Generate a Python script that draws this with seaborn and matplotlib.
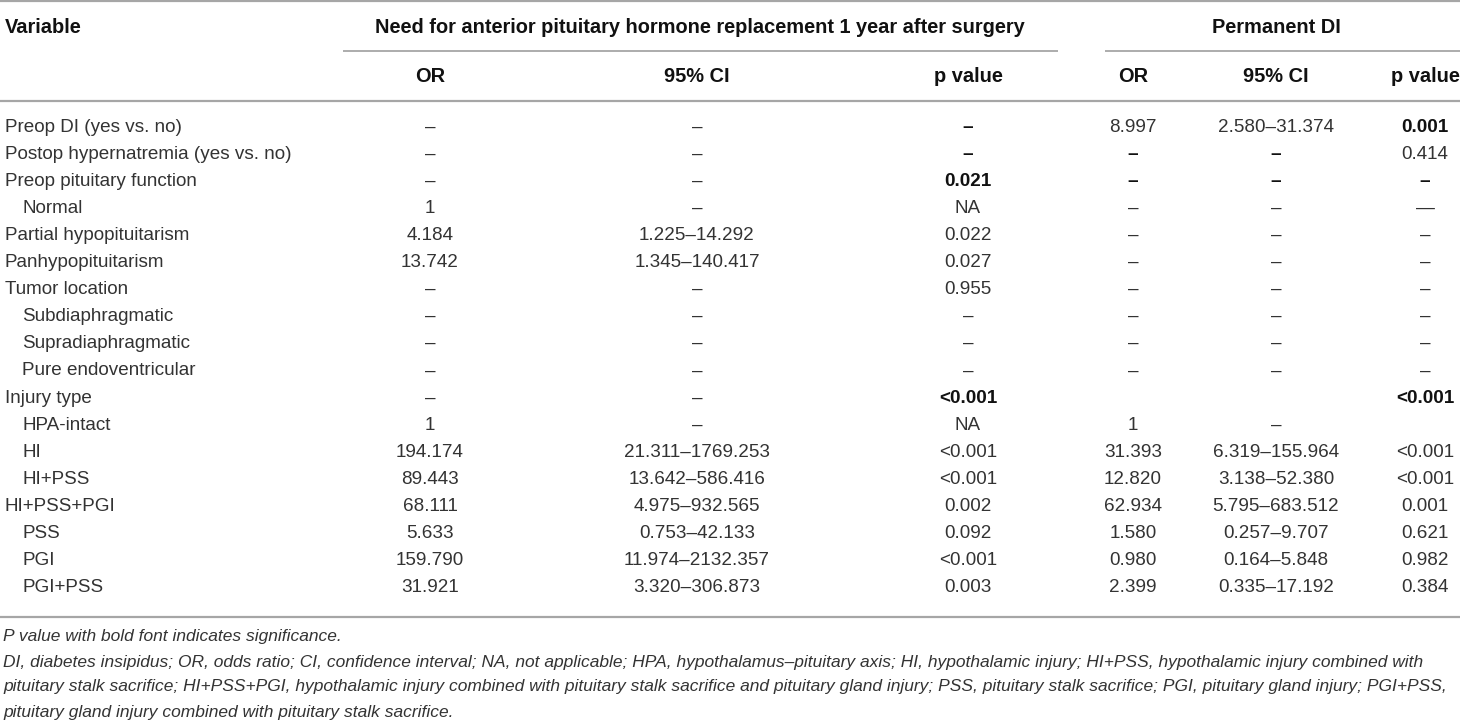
import matplotlib
matplotlib.use("Agg")
import matplotlib.pyplot as plt
import seaborn as sns

# table content
group_headers = ["Need for anterior pituitary hormone replacement 1 year after surgery", "Permanent DI"]
sub_headers = ["OR", "95% CI", "p value", "OR", "95% CI", "p value"]

variables = [
    "Preop DI (yes vs. no)", "Postop hypernatremia (yes vs. no)", "Preop pituitary function",
    "Normal", "Partial hypopituitarism", "Panhypopituitarism", "Tumor location",
    "Subdiaphragmatic", "Supradiaphragmatic", "Pure endoventricular", "Injury type",
    "HPA-intact", "HI", "HI+PSS", "HI+PSS+PGI", "PSS", "PGI", "PGI+PSS",
]
indented = [False, False, False, True, False, False, False, True, True, True, False,
            True, True, True, False, True, True, True]

or_1 = ["–", "–", "–", "1", "4.184", "13.742", "–", "–", "–", "–", "–",
        "1", "194.174", "89.443", "68.111", "5.633", "159.790", "31.921"]
ci_1 = ["–", "–", "–", "–", "1.225–14.292", "1.345–140.417", "–", "–", "–", "–", "–",
        "–", "21.311–1769.253", "13.642–586.416", "4.975–932.565", "0.753–42.133",
        "11.974–2132.357", "3.320–306.873"]
p_1 = ["–", "–", "0.021", "NA", "0.022", "0.027", "0.955", "–", "–", "–", "<0.001",
       "NA", "<0.001", "<0.001", "0.002", "0.092", "<0.001", "0.003"]
or_2 = ["8.997", "–", "–", "–", "–", "–", "–", "–", "–", "–", "",
        "1", "31.393", "12.820", "62.934", "1.580", "0.980", "2.399"]
ci_2 = ["2.580–31.374", "–", "–", "–", "–", "–", "–", "–", "–", "–", "",
        "–", "6.319–155.964", "3.138–52.380", "5.795–683.512", "0.257–9.707",
        "0.164–5.848", "0.335–17.192"]
p_2 = ["0.001", "0.414", "–", "—", "–", "–", "–", "–", "–", "–", "<0.001",
       "", "<0.001", "<0.001", "0.001", "0.621", "0.982", "0.384"]

# (row, column) cells printed in bold, columns 0..5 = or_1 .. p_2
bold_cells = [(0, 2), (0, 5), (1, 2), (1, 3), (1, 4), (2, 2), (2, 3), (2, 4), (2, 5),
              (10, 2), (10, 5)]

footnotes = [
    "P value with bold font indicates significance.",
    "DI, diabetes insipidus; OR, odds ratio; CI, confidence interval; NA, not applicable; HPA, hypothalamus–pituitary axis; HI, hypothalamic injury; HI+PSS, hypothalamic injury combined with",
    "pituitary stalk sacrifice; HI+PSS+PGI, hypothalamic injury combined with pituitary stalk sacrifice and pituitary gland injury; PSS, pituitary stalk sacrifice; PGI, pituitary gland injury; PGI+PSS,",
    "pituitary gland injury combined with pituitary stalk sacrifice.",
]

sns.set_theme(style="white")
plt.rcParams["font.family"] = ["Liberation Sans", "DejaVu Sans"]

W, H = 1460, 725
fig = plt.figure(figsize=(W / 100, H / 100), dpi=100)
ax = fig.add_axes([0, 0, 1, 1])
ax.set_xlim(0, W)
ax.set_ylim(H, 0)
ax.axis("off")

line_col = "#a6a6a6"
txt_col = "#333333"
head_col = "#111111"
fs_body = 13.6
fs_head = 14.4

col_x = [430, 697, 968, 1133, 1276, 1425]
row_y0, row_dy = 127, 27.1

# rules
ax.hlines([1, 101, 617], 0, W, color=line_col, lw=1.6)
ax.hlines(51, 343, 1058, color=line_col, lw=1.3)
ax.hlines(51, 1105, W, color=line_col, lw=1.3)

# headers
ax.text(5, 27, "Variable", fontsize=fs_head, fontweight="bold", va="center", color=head_col)
ax.text(700, 27, group_headers[0], fontsize=fs_head, fontweight="bold", ha="center", va="center", color=head_col)
ax.text(1276, 27, group_headers[1], fontsize=fs_head, fontweight="bold", ha="center", va="center", color=head_col)
for x, lab in zip(col_x, sub_headers):
    ax.text(x, 76, lab, fontsize=fs_head, fontweight="bold", ha="center", va="center", color=head_col)

# body
columns = [or_1, ci_1, p_1, or_2, ci_2, p_2]
for i, var in enumerate(variables):
    y = row_y0 + i * row_dy
    ax.text(22 if indented[i] else 5, y, var, fontsize=fs_body, va="center", color=txt_col)
    for j, col in enumerate(columns):
        b = (i, j) in bold_cells
        ax.text(col_x[j], y, col[i], fontsize=fs_body, ha="center", va="center",
                fontweight="bold" if b else "normal", color=head_col if b else txt_col)

# footnotes
for k, note in enumerate(footnotes):
    ax.text(3, 637 + k * 25, note, fontsize=12.5, style="italic", va="center", color=txt_col)

fig.savefig("out.png", dpi=100)
